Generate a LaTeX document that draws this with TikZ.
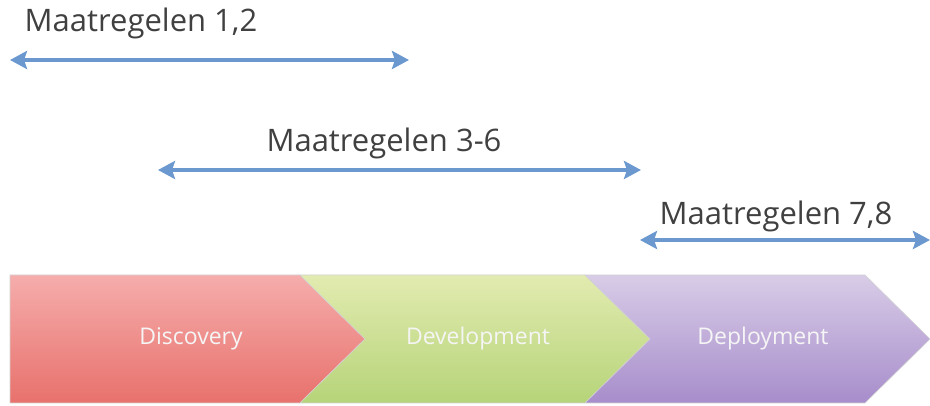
\documentclass[tikz,border=0pt]{standalone}
\usepackage{fontspec}
\setmainfont{Open Sans}
\usetikzlibrary{arrows.meta}
\definecolor{arrowblue}{HTML}{6A98CF}
\definecolor{labelgray}{HTML}{404040}
\definecolor{pinktop}{HTML}{F5ADAC}
\definecolor{pinkbot}{HTML}{E8716C}
\definecolor{greentop}{HTML}{E2EBB0}
\definecolor{greenbot}{HTML}{B6D479}
\definecolor{purptop}{HTML}{D8CCE7}
\definecolor{purpbot}{HTML}{A78DCB}
\tikzset{
  span/.style={line width=4.5pt, draw=arrowblue,
    {Stealth[length=17pt,width=18pt,inset=3pt]}-{Stealth[length=17pt,width=18pt,inset=3pt]}},
  lbl/.style={font=\fontsize{31}{35}\selectfont, text=labelgray, inner sep=0pt},
  phase/.style={font=\fontsize{23}{27}\selectfont, text=white!92!gray, inner sep=0pt},
  chev/.style={draw=gray!35, line width=0.6pt}
}
\begin{document}
\begin{tikzpicture}[x=1pt,y=1pt]
\useasboundingbox (0,0) rectangle (930,406);
% chevrons
\path[chev, top color=pinktop, bottom color=pinkbot]
  (10,3) -- (10,131) -- (300,131) -- (365,67) -- (300,3) -- cycle;
\path[chev, top color=greentop, bottom color=greenbot]
  (300,131) -- (585,131) -- (650,67) -- (585,3) -- (300,3) -- (365,67) -- cycle;
\path[chev, top color=purptop, bottom color=purpbot]
  (585,131) -- (865,131) -- (930,67) -- (865,3) -- (585,3) -- (650,67) -- cycle;
\node[phase] (disc) at (191,67) {Discovery};
\node[phase] (dev) at (478,67) {Development};
\node[phase] (dep) at (763,67) {Deployment};
% labels
\node[lbl] (l1) at (141,383) {Maatregelen 1,2};
\node[lbl] (l2) at (384,263) {Maatregelen 3-6};
\node[lbl] (l3) at (776,190) {Maatregelen 7,8};
% arrows
\coordinate (a1l) at (10,346);
\coordinate (a1r) at (409,346);
\coordinate (a2l) at (158,236);
\coordinate (a2r) at (641,236);
\coordinate (a3l) at (640,166);
\coordinate (a3r) at (930,166);
\draw[span] (a1l) -- (a1r);
\draw[span] (a2l) -- (a2r);
\draw[span] (a3l) -- (a3r);
\end{tikzpicture}
\end{document}
